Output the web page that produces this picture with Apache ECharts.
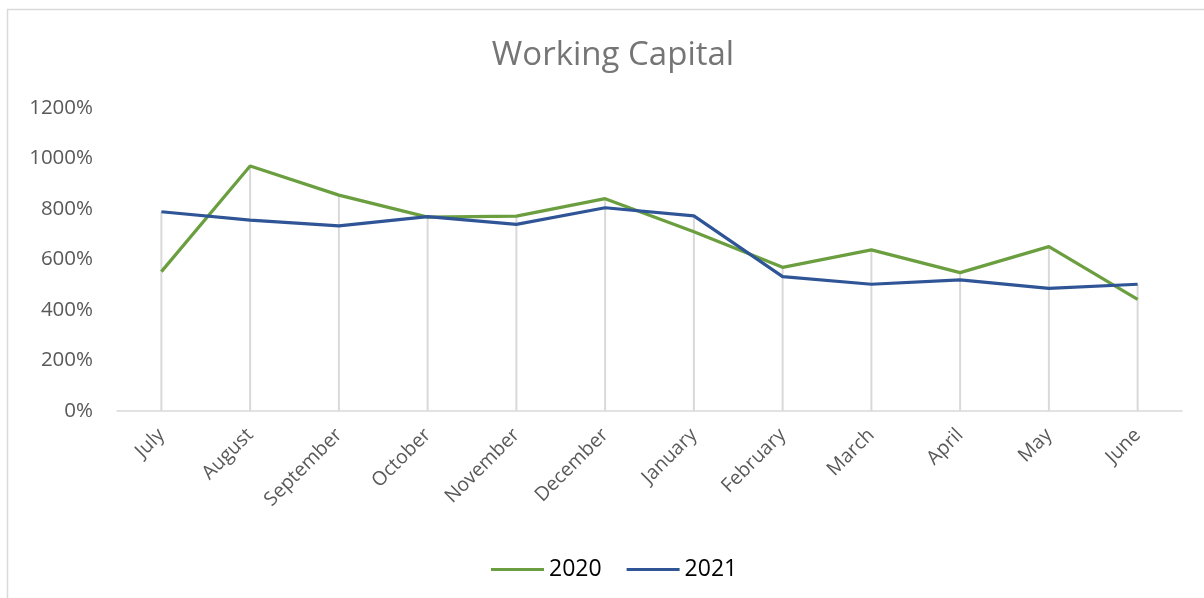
<!DOCTYPE html>
<html>
<head>
<meta charset="utf-8">
<script src="https://cdn.jsdelivr.net/npm/echarts@6/dist/echarts.min.js"></script>
<style>
html,body{margin:0;padding:0;background:#fff;}
#chart{width:1204px;height:598px;}
</style>
</head>
<body>
<div id="chart"></div>
<script>
const categories = ['July','August','September','October','November','December','January','February','March','April','May','June'];
const series2020 = [552, 970, 855, 768, 772, 841, 710, 569, 638, 548, 651, 442];
const series2021 = [789, 756, 733, 770, 739, 805, 773, 532, 502, 519, 486, 502];
const yTicks = [0, 200, 400, 600, 800, 1000, 1200];

const dropLines = categories.map((c, i) => Math.max(series2020[i], series2021[i]));
const font = '"Open Sans", sans-serif';

const chart = echarts.init(document.getElementById('chart'));
chart.setOption({
  animation: false,
  backgroundColor: '#fff',
  graphic: [{
    type: 'rect', silent: true, z: -10,
    shape: {x: 7.5, y: 9.5, width: 1400, height: 800},
    style: {fill: '#fff', stroke: '#d9d9d9', lineWidth: 1.5}
  }],
  title: {
    text: 'Working Capital',
    left: 608, top: 34, textAlign: 'center',
    textStyle: {color: '#757575', fontSize: 33, fontWeight: 'normal', fontFamily: font}
  },
  legend: {
    data: ['2020', '2021'],
    left: 486, top: 553,
    itemWidth: 53, itemHeight: 3, itemGap: 25,
    icon: 'rect',
    textStyle: {color: '#000', fontSize: 23, fontFamily: font, padding: [0,0,0,0]}
  },
  grid: {left: 117, right: 22, top: 108, bottom: 187, containLabel: false},
  xAxis: {
    type: 'category', data: categories, boundaryGap: true,
    axisLine: {lineStyle: {color: '#d9d9d9', width: 1.5}},
    axisTick: {show: false},
    splitLine: {show: false},
    axisLabel: {rotate: 45, margin: 21, color: '#595959', fontSize: 19.5, fontFamily: font, interval: 0}
  },
  yAxis: {
    type: 'value', min: yTicks[0], max: yTicks[yTicks.length-1], interval: 200,
    axisLine: {show: false}, axisTick: {show: false},
    splitLine: {show: false},
    axisLabel: {formatter: v => v + '%', margin: 24, color: '#595959', fontSize: 20.5, fontFamily: font}
  },
  series: [
    {
      name: 'drop', type: 'bar', data: dropLines, barWidth: 2, silent: true, z: 1,
      itemStyle: {color: '#d9d9d9'}, legendHoverLink: false
    },
    {
      name: '2020', type: 'line', data: series2020, symbol: 'none', z: 3,
      lineStyle: {color: '#6A9E3F', width: 3.2}, itemStyle: {color: '#6A9E3F'}
    },
    {
      name: '2021', type: 'line', data: series2021, symbol: 'none', z: 4,
      lineStyle: {color: '#2F5597', width: 3.2}, itemStyle: {color: '#2F5597'}
    }
  ]
});
</script>
</body>
</html>
